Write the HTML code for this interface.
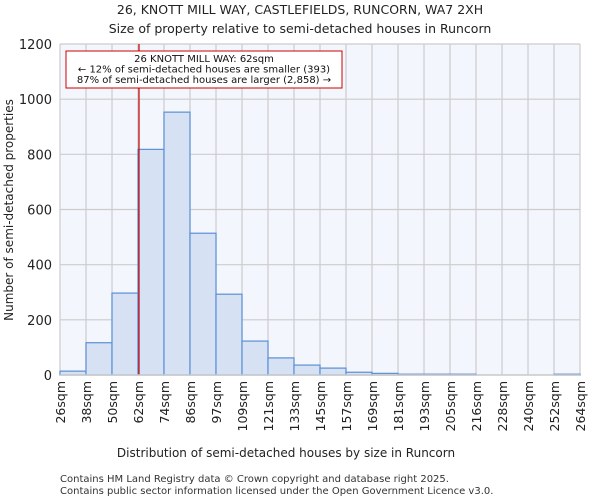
<!DOCTYPE html>
<html><head><meta charset="utf-8"><style>
body{margin:0;background:#fff;font-family:"DejaVu Sans","Liberation Sans",sans-serif;}
</style></head><body>
<svg id="c" width="600" height="500" xmlns="http://www.w3.org/2000/svg" font-family="DejaVu Sans, Liberation Sans, sans-serif">
<text x="300" y="14" text-anchor="middle" font-size="12.5" fill="#222">26, KNOTT MILL WAY, CASTLEFIELDS, RUNCORN, WA7 2XH</text>
<text x="300" y="33" text-anchor="middle" font-size="12.5" fill="#222">Size of property relative to semi-detached houses in Runcorn</text>
<rect x="60" y="44" width="520" height="331" fill="#f3f6fd"/>
<g id="grid"></g><g id="bars"></g><g id="axes"></g>
<text x="286" y="457" text-anchor="middle" font-size="12" fill="#222">Distribution of semi-detached houses by size in Runcorn</text>
<text transform="translate(13,210) rotate(-90)" text-anchor="middle" font-size="12" fill="#222">Number of semi-detached properties</text>
<text x="60" y="482" font-size="10" fill="#333">Contains HM Land Registry data © Crown copyright and database right 2025.</text>
<text x="60" y="494" font-size="10" fill="#333">Contains public sector information licensed under the Open Government Licence v3.0.</text>
</svg>
<script>
const binLabels=["26sqm","38sqm","50sqm","62sqm","74sqm","86sqm","97sqm","109sqm","121sqm","133sqm","145sqm","157sqm","169sqm","181sqm","193sqm","205sqm","216sqm","228sqm","240sqm","252sqm","264sqm"];
const counts=[14,117,297,818,953,514,293,123,62,36,25,10,6,3,3,3,0,0,0,3];
const yTicks=[0,200,400,600,800,1000,1200];
const markerIndex=3;
const NS="http://www.w3.org/2000/svg";
const x0=60,x1=580,y0=375,y1=44,yMax=1200;
const xs=i=>x0+i*(x1-x0)/counts.length;
const ys=v=>y0-v*(y0-y1)/yMax;
function mk(t,a,p){const e=document.createElementNS(NS,t);for(const k in a)e.setAttribute(k,a[k]);p.appendChild(e);return e;}
const grid=document.getElementById('grid'),bars=document.getElementById('bars'),axes=document.getElementById('axes');
yTicks.forEach(v=>{
 const l=mk('line',{x1:x0,x2:x1,y1:ys(v),y2:ys(v),stroke:'#ccc','stroke-width':1.2},grid);
 
 
 const t=mk('text',{x:x0-8,y:ys(v)+5,'text-anchor':'end','font-size':13,fill:'#222'},axes);
 t.textContent=v;
 
 
});
binLabels.forEach((s,i)=>{
 const l=mk('line',{x1:xs(i),x2:xs(i),y1:y1,y2:y0,stroke:'#ccc','stroke-width':1.2},grid);
 
 
 const t=mk('text',{transform:`translate(${xs(i)+5},381) rotate(-90)`,'text-anchor':'end','font-size':12.5,fill:'#222'},axes);
 t.textContent=s;
 
 
});
counts.forEach((v,i)=>{
 if(v<=0)return;
 const r=mk('rect',{x:xs(i),y:ys(v),width:xs(i+1)-xs(i),height:y0-ys(v),fill:'#d6e1f3',stroke:'#5b8fd6','stroke-width':1.2},bars);
 
 
});
const ml=mk('line',{x1:xs(markerIndex)+1,x2:xs(markerIndex)+1,y1:y1,y2:y0,stroke:'#c00','stroke-width':1.2},axes);


const ab=mk('rect',{x:66,y:51,width:276,height:37,fill:'#fff',stroke:'#c00','stroke-width':1},axes);


["26 KNOTT MILL WAY: 62sqm","← 12% of semi-detached houses are smaller (393)","87% of semi-detached houses are larger (2,858) →"].forEach((s,i)=>{
 const t=mk('text',{x:204,y:62+i*10.5,'text-anchor':'middle','font-size':10,fill:'#111'},axes);
 t.textContent=s;
 
 
});
const bl=mk('line',{x1:x0,x2:x1,y1:y0,y2:y0,stroke:'#ccc','stroke-width':1.5},axes);


</script>
</body></html>
